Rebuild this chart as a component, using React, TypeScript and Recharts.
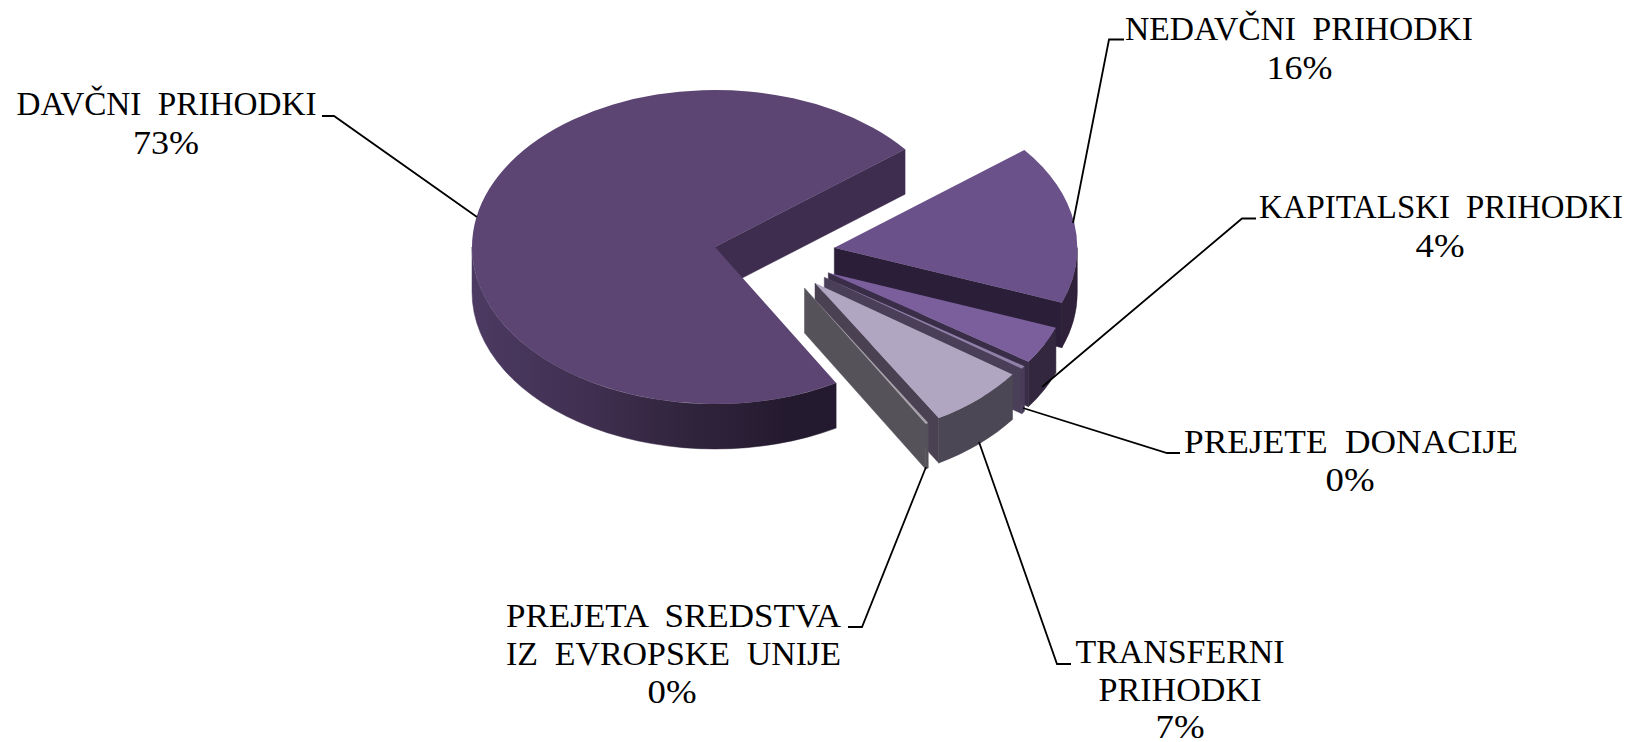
import React from "react";
import { PieChart, Pie } from "recharts";

const names = [
  "DAVČNI PRIHODKI",
  "NEDAVČNI PRIHODKI",
  "KAPITALSKI PRIHODKI",
  "PREJETE DONACIJE",
  "TRANSFERNI PRIHODKI",
  "PREJETA SREDSTVA IZ EVROPSKE UNIJE",
];
const shares = [72.6, 16.4, 3.9, 0.3, 6.6, 0.2];
const data = names.map((name, i) => ({ name, value: shares[i] }));

const topColors = ["#5c4573", "#6b5189", "#7a5f9c", "#8f80a8", "#b0a6c2", "#a8a3ab"];
const wallColors = ["url(#mainWall)", "#2e2139", "#33263f", "#4a3d5a", "#4c4754", "#56525a"];
const faceColors = ["#3e2d4f", "#2b1e38", "#3a2d48", "#4a3f58", "#4a4152", "#56525a"];
const explodeX = [0, 119.3, 113.3, 109.3, 100, 89.5];
const explodeY = [0, 0.7, 25.7, 30.3, 36, 41];

// label layout: each line is [text, centre x, baseline y, fitted width]
const labelRows: [string, number, number, number][][] = [
  [["DAVČNI PRIHODKI", 166.5, 115, 300]],
  [["NEDAVČNI PRIHODKI", 1299, 40, 348]],
  [["KAPITALSKI PRIHODKI", 1441, 217.5, 364]],
  [["PREJETE DONACIJE", 1351, 452.7, 334]],
  [["TRANSFERNI", 1180, 662.7, 209], ["PRIHODKI", 1180, 701, 163]],
  [["PREJETA SREDSTVA", 673.5, 627, 335], ["IZ EVROPSKE UNIJE", 673.5, 665, 335]],
];
const percentCentreX = [166, 1299.5, 1440, 1350, 1180, 672];
const percentBaseY = [154, 78.7, 257, 491, 738, 703];
const leaderLines = [
  "322,116 334,116 477,217",
  "1124,39.5 1109,39.5 1073,223",
  "1256,218.5 1242,218.5 1042,387",
  "1180,453 1167,453 1023,408",
  "1071,664 1057,664 979,442",
  "848,627 862,627 926,467",
];

const CX = 715;
const CY = 247;
const RX = 243;
const RY = 157;
const DEPTH = 45;
const FONT = "'Liberation Serif', serif";

const rad = (a: number) => (a * Math.PI) / 180;

function Slice3D(props: any) {
  const { cx, cy, outerRadius, startAngle, endAngle, index } = props;
  const ox = cx + explodeX[index];
  const oy = cy + explodeY[index];
  const rx = outerRadius;
  const ry = (outerRadius * RY) / RX;
  const px = (a: number) => ox + rx * Math.cos(rad(a));
  const py = (a: number) => oy - ry * Math.sin(rad(a));
  const s = Math.max(startAngle, endAngle);
  const e = Math.min(startAngle, endAngle);
  const large = s - e > 180 ? 1 : 0;

  const walls: string[] = [];
  for (const k of [360, 0, -360, -720]) {
    const a = Math.min(s, k);
    const b = Math.max(e, k - 180);
    if (a > b) {
      walls.push(
        `M${px(a)},${py(a)} A${rx},${ry} 0 0 1 ${px(b)},${py(b)} L${px(b)},${py(b) + DEPTH} A${rx},${ry} 0 0 0 ${px(a)},${py(a) + DEPTH} Z`
      );
    }
  }
  return (
    <g>
      {index === 0 && (
        <defs>
          <linearGradient id="mainWall" x1="0" y1="0" x2="1" y2="0">
            <stop offset="0" stopColor="#4c3a62" />
            <stop offset="0.33" stopColor="#402f50" />
            <stop offset="0.6" stopColor="#30243c" />
            <stop offset="0.87" stopColor="#241a2f" />
            <stop offset="1" stopColor="#241a2f" />
          </linearGradient>
        </defs>
      )}
      <path
        d={`M${ox},${oy} L${px(e)},${py(e)} L${px(e)},${py(e) + DEPTH} L${ox},${oy + DEPTH} Z`}
        fill={faceColors[index]}
        stroke={faceColors[index]}
        strokeWidth={0.5}
      />
      {walls.map((d) => (
        <path key={d} d={d} fill={wallColors[index]} stroke={wallColors[index]} strokeWidth={0.5} />
      ))}
      <path
        d={`M${ox},${oy} L${px(s)},${py(s)} A${rx},${ry} 0 ${large} 1 ${px(e)},${py(e)} Z`}
        fill={topColors[index]}
      />
    </g>
  );
}

function SliceLabel(props: any) {
  const { index, value } = props;
  const rows = labelRows[index];
  const pct = `${Math.round(value)}%`;
  return (
    <g>
      <polyline points={leaderLines[index]} fill="none" stroke="#000" strokeWidth={1.8} />
      {rows.map(([t, x, y, w]) => (
        <text
          key={t}
          x={x}
          y={y}
          textAnchor="middle"
          fontFamily={FONT}
          fontSize={33}
          wordSpacing={8}
          fill="#000"
          textLength={w}
          lengthAdjust="spacingAndGlyphs"
        >
          {t}
        </text>
      ))}
      <text
        x={percentCentreX[index]}
        y={percentBaseY[index]}
        textAnchor="middle"
        fontFamily={FONT}
        fontSize={34}
        fill="#000"
        textLength={pct.length === 3 ? 66 : 49}
        lengthAdjust="spacingAndGlyphs"
      >
        {pct}
      </text>
    </g>
  );
}

export default function App() {
  return (
    <div style={{ position: "absolute", left: 0, top: 0, width: 1630, height: 742 }}>
      <PieChart width={1630} height={742} margin={{ top: 0, right: 0, bottom: 0, left: 0 }}>
        <Pie
          data={data}
          dataKey="value"
          nameKey="name"
          cx={CX}
          cy={CY}
          innerRadius={0}
          outerRadius={RX}
          startAngle={-60.1}
          endAngle={-420.1}
          stroke="none"
          shape={Slice3D}
          label={SliceLabel}
          labelLine={false}
          isAnimationActive={false}
        />
      </PieChart>
    </div>
  );
}
